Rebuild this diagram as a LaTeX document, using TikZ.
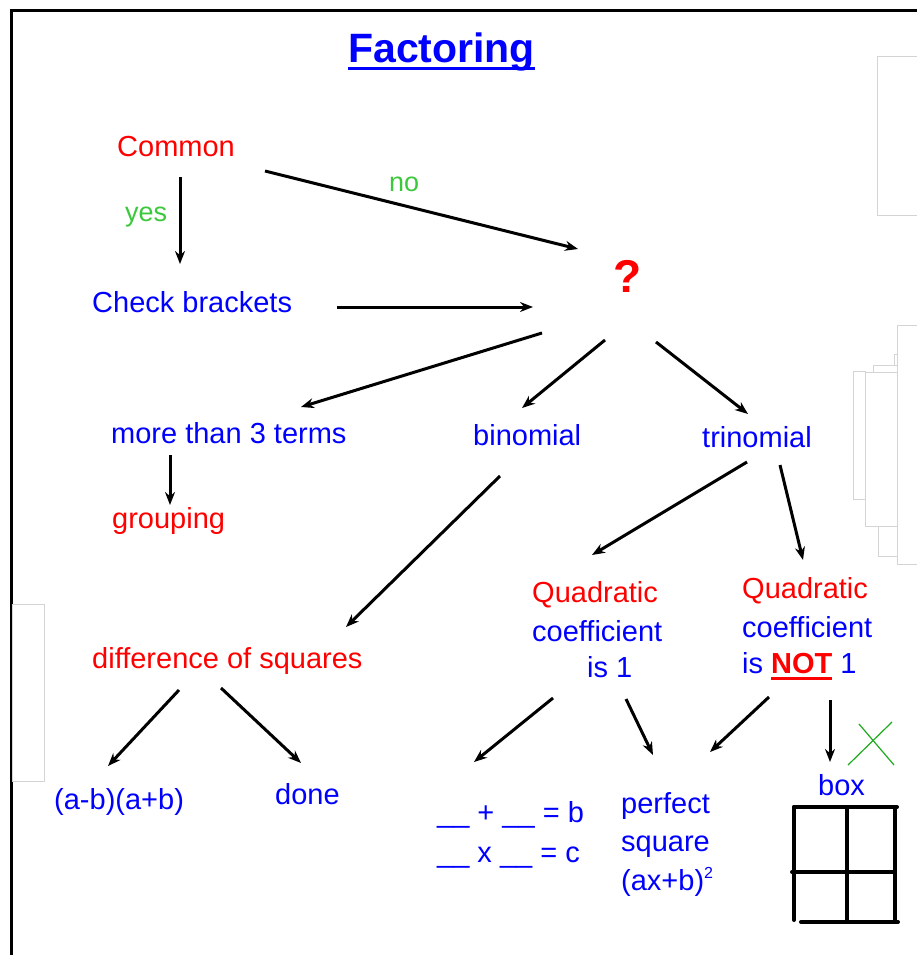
\documentclass[tikz,border=0pt]{standalone}
\usepackage{fontspec}
\setmainfont{Liberation Sans}
\usetikzlibrary{arrows.meta,calc}
\definecolor{tblue}{RGB}{0,0,255}
\definecolor{tred}{RGB}{255,0,0}
\definecolor{tgreen}{RGB}{60,200,60}
\definecolor{xgreen}{RGB}{30,170,30}
\definecolor{ghost}{RGB}{212,212,212}
\newcommand\myuline[2]{\setbox0=\hbox{#2}\rlap{\rule[-#1]{\wd0}{3pt}}\box0}
\begin{document}
\begin{tikzpicture}[x=1pt,y=-1pt,
  arr/.style={line width=3pt,-{Stealth[length=13pt,width=10pt]}},
  txt/.style={anchor=base west,inner sep=0pt,font=\fontsize{29}{35}\selectfont},
  lbl/.style={anchor=base west,inner sep=0pt,font=\fontsize{27}{32}\selectfont,text=tgreen},
  ghostbox/.style={draw=ghost,line width=1pt},
  gridline/.style={line width=4pt,line cap=round}]
\useasboundingbox (0,0) rectangle (917,955);
\fill[white] (0,0) rectangle (917,955);
% frame
\draw[line width=3pt] (11,960) -- (11,11) -- (925,11);
% faint leftover rectangles
\draw[ghostbox] (877,57) rectangle (925,215);
\draw[ghostbox] (897,325) rectangle (925,564);
\draw[ghostbox] (853,371) rectangle (865,499);
\draw[ghostbox] (865,372) rectangle (897,526);
\draw[ghostbox] (873,365) rectangle (897,372);
\draw[ghostbox] (894,354) rectangle (897,365);
\draw[ghostbox] (878,526) rectangle (897,556);
\draw[ghostbox] (12,604) rectangle (44,781);
% title
\node[anchor=base west,inner sep=0pt,font=\fontsize{41}{49}\selectfont\bfseries,text=tblue] (title) at (348,63) {\myuline{7pt}{Factoring}};
% nodes
\node[txt,text=tred] (common) at (117,156) {Common};
\node[lbl] (yes) at (125,221) {yes};
\node[lbl] (no) at (389,191) {no};
\node[txt,text=tblue] (check) at (92,312) {Check brackets};
\node[anchor=base west,inner sep=0pt,font=\fontsize{46}{50}\selectfont\bfseries,text=tred] (q) at (613,292) {?};
\node[txt,text=tblue] (more) at (111,443) {more than 3 terms};
\node[txt,text=tblue] (bin) at (473,445) {binomial};
\node[txt,text=tblue] (tri) at (702,447) {trinomial};
\node[txt,text=tred] (grp) at (112,528) {grouping};
\node[txt,text=tred] (qa1) at (532,602) {Quadratic};
\node[txt,text=tblue] (qa2) at (532,641) {coefficient};
\node[txt,text=tblue] (qa3) at (587,677) {is 1};
\node[txt,text=tred] (qb1) at (742,598) {Quadratic};
\node[txt,text=tblue] (qb2) at (742,637) {coefficient};
\node[txt,text=tblue] (qb3) at (742,673) {is \textcolor{tred}{\myuline{7pt}{\bfseries NOT}} 1};
\node[txt,text=tred] (diff) at (92,668) {difference of squares};
\node[txt,text=tblue] (ab) at (54,809) {(a-b)(a+b)};
\node[txt,text=tblue] (done) at (275,804) {done};
\node[txt,text=tblue] (eqb) at (437,822) {\_\_ + \_\_ = b};
\node[txt,text=tblue] (eqc) at (437,862) {\_\_ x \_\_ = c};
\node[txt,text=tblue] (pf1) at (621,813) {perfect};
\node[txt,text=tblue] (pf2) at (621,851) {square};
\node[txt,text=tblue] (pf3) at (621,890) {(ax+b)\raisebox{12pt}{\fontsize{16}{16}\selectfont 2}};
\node[txt,text=tblue] (box) at (818,795) {box};
% connectors
\draw[arr] ($(common.base west)+(148,15)$) -- ($(q.base west)+(-35,-43)$);
\draw[arr] ($(common.base west)+(63,21)$) -- ($(check.base west)+(88,-48)$);
\draw[arr] ($(check.base west)+(245,-5)$) -- ($(q.base west)+(-80,15)$);
\draw[arr] ($(q.base west)+(-71,41)$) -- ($(more.base west)+(190,-36)$);
\draw[arr] ($(q.base west)+(-8,48)$) -- ($(bin.base west)+(49,-37)$);
\draw[arr] ($(q.base west)+(43,50)$) -- ($(tri.base west)+(46,-33)$);
\draw[arr] ($(more.base west)+(59,12)$) -- ($(grp.base west)+(58,-23)$);
\draw[arr] ($(bin.base west)+(27,31)$) -- ($(diff.base west)+(254,-41)$);
\draw[arr] ($(tri.base west)+(45,15)$) -- ($(qa1.base west)+(60,-47)$);
\draw[arr] ($(tri.base west)+(78,18)$) -- ($(qb1.base west)+(61,-38)$);
\draw[arr] ($(diff.base west)+(87,22)$) -- ($(ab.base west)+(54,-43)$);
\draw[arr] ($(diff.base west)+(129,20)$) -- ($(done.base west)+(26,-41)$);
\draw[arr] ($(qa3.base west)+(-34,21)$) -- ($(eqb.base west)+(37,-60)$);
\draw[arr] ($(qa3.base west)+(39,22)$) -- ($(pf1.base west)+(32,-58)$);
\draw[arr] ($(qb3.base west)+(27,24)$) -- ($(pf1.base west)+(89,-61)$);
\draw[arr] ($(qb3.base west)+(88,27)$) -- ($(box.base west)+(12,-33)$);
% green cross
\draw[xgreen,line width=1.2pt] (848,765) -- (892,722);
\draw[xgreen,line width=1.2pt] (859,724) -- (894,765);
% box grid
\draw[gridline] (794,807) -- (794,920);
\draw[gridline] (794,807) -- (897,807);
\draw[gridline] (895,807) -- (895,922);
\draw[gridline] (847,807) -- (847,922);
\draw[gridline] (792,872) -- (893,872);
\draw[gridline] (801,922) -- (898,922);
\end{tikzpicture}
\end{document}
